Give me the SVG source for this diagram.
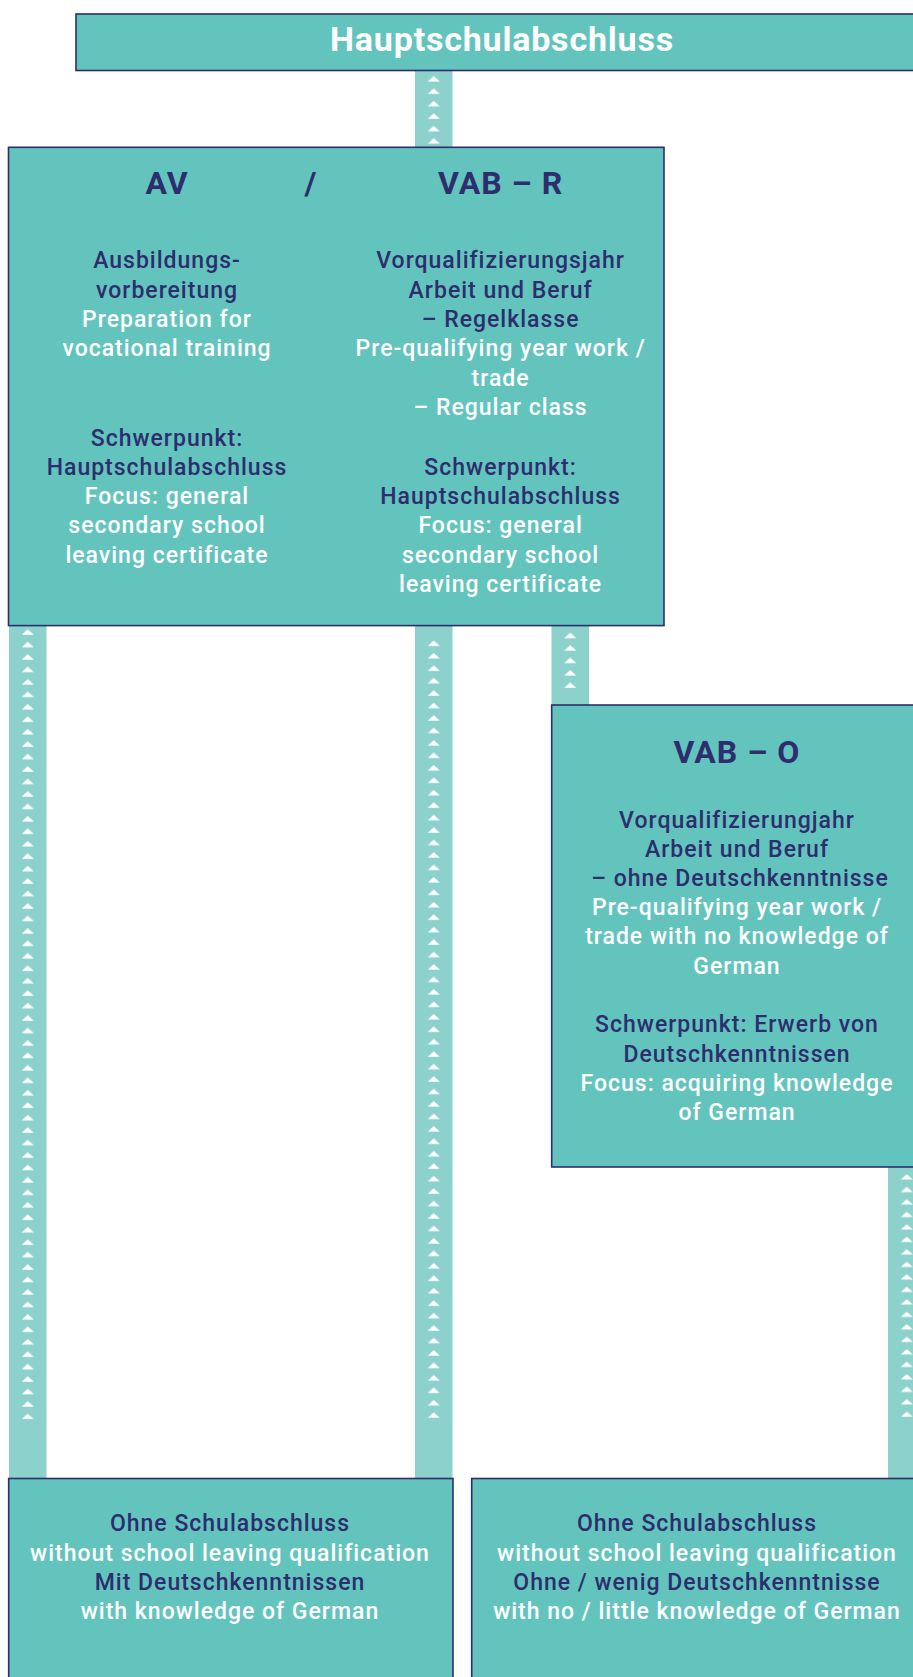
<svg xmlns="http://www.w3.org/2000/svg" width="913" height="1677" viewBox="0 0 913 1677">
<style>
.box{fill:#63C4BE;stroke:#2E2D6D;stroke-width:1.6}
.bar{fill:#8DD1CC}
text{font-family:Roboto,"Liberation Sans",sans-serif;text-anchor:middle}
.t{font-size:23px;font-weight:500;letter-spacing:1px}
.h{font-size:32px;font-weight:bold;letter-spacing:1px;fill:#2E2D6D}
.ttl{font-size:34px;font-weight:bold;letter-spacing:0.8px;fill:#FFFFFF}
.n{fill:#2E2D6D}
.w{fill:#FFFFFF}
</style>
<defs>
<pattern id="pTop" patternUnits="userSpaceOnUse" x="415" y="76" width="37.5" height="12.45"><polygon points="12.75,5.4 18.75,0 24.75,5.4" fill="#FFFFFF"/></pattern>
<pattern id="pLeft" patternUnits="userSpaceOnUse" x="9" y="629.3" width="37.5" height="12.45"><polygon points="12.75,5.4 18.75,0 24.75,5.4" fill="#FFFFFF"/></pattern>
<pattern id="pMid" patternUnits="userSpaceOnUse" x="415" y="640.5" width="37.5" height="12.45"><polygon points="12.75,5.4 18.75,0 24.75,5.4" fill="#FFFFFF"/></pattern>
<pattern id="pThird" patternUnits="userSpaceOnUse" x="551.5" y="632.7" width="37.5" height="12.45"><polygon points="12.75,5.4 18.75,0 24.75,5.4" fill="#FFFFFF"/></pattern>
<pattern id="pRight" patternUnits="userSpaceOnUse" x="888" y="1174.3" width="37.5" height="12.49"><polygon points="12.75,5.4 18.75,0 24.75,5.4" fill="#FFFFFF"/></pattern>
</defs>

<g id="connectors">
<rect class="bar" x="415" y="70" width="37.5" height="78"/>
<rect x="415" y="76" width="37.5" height="67.75" fill="url(#pTop)"/>
<rect class="bar" x="9" y="625" width="37.5" height="854"/>
<rect x="9" y="629.3" width="37.5" height="789.85" fill="url(#pLeft)"/>
<rect class="bar" x="415" y="625" width="37.5" height="854"/>
<rect x="415" y="640.5" width="37.5" height="777.4" fill="url(#pMid)"/>
<rect class="bar" x="551.5" y="625" width="37.5" height="80"/>
<rect x="551.5" y="632.7" width="37.5" height="55.3" fill="url(#pThird)"/>
<rect class="bar" x="888" y="1166" width="37.5" height="313"/>
<rect x="888" y="1174.3" width="37.5" height="242.8" fill="url(#pRight)"/>
</g>

<g id="node-hauptschulabschluss">
<rect class="box" x="76" y="14" width="860" height="56.5"/>
<text class="ttl" x="502" y="51">Hauptschulabschluss</text>
</g>

<g id="node-av-vabr">
<rect class="box" x="8.5" y="147.3" width="655.5" height="478.3"/>
<text class="h" x="167" y="194.3">AV</text>
<text class="h" x="311" y="194.3">/</text>
<text class="h" x="500.6" y="194.3">VAB – R</text>
<text class="t n" x="167" y="268.3">Ausbildungs-</text>
<text class="t n" x="167" y="297.6">vorbereitung</text>
<text class="t w" x="167" y="327">Preparation for</text>
<text class="t w" x="167" y="356.3">vocational training</text>
<text class="t n" x="167" y="446">Schwerpunkt:</text>
<text class="t n" x="167" y="475">Hauptschulabschluss</text>
<text class="t w" x="167" y="504.3">Focus: general</text>
<text class="t w" x="167" y="533.3">secondary school</text>
<text class="t w" x="167" y="563">leaving certificate</text>
<text class="t n" x="500.6" y="268.3">Vorqualifizierungsjahr</text>
<text class="t n" x="500.6" y="297.6">Arbeit und Beruf</text>
<text class="t n" x="500.6" y="327">– Regelklasse</text>
<text class="t w" x="500.6" y="356.3">Pre-qualifying year work /</text>
<text class="t w" x="500.6" y="385.6">trade</text>
<text class="t w" x="500.6" y="415">– Regular class</text>
<text class="t n" x="500.6" y="475">Schwerpunkt:</text>
<text class="t n" x="500.6" y="504.3">Hauptschulabschluss</text>
<text class="t w" x="500.6" y="533.3">Focus: general</text>
<text class="t w" x="500.6" y="563">secondary school</text>
<text class="t w" x="500.6" y="592.3">leaving certificate</text>
</g>

<g id="node-vabo">
<rect class="box" x="551.7" y="705" width="380" height="462"/>
<text class="h" x="737" y="762.7">VAB – O</text>
<text class="t n" x="737" y="827.6">Vorqualifizierungjahr</text>
<text class="t n" x="737" y="856.5">Arbeit und Beruf</text>
<text class="t n" x="740" y="886">– ohne Deutschkenntnisse</text>
<text class="t w" x="737" y="915">Pre-qualifying year work /</text>
<text class="t w" x="737" y="944.3">trade with no knowledge of</text>
<text class="t w" x="737" y="974">German</text>
<text class="t n" x="737" y="1032.3">Schwerpunkt: Erwerb von</text>
<text class="t n" x="737" y="1061.7">Deutschkenntnissen</text>
<text class="t w" x="737" y="1091">Focus: acquiring knowledge</text>
<text class="t w" x="737" y="1120">of German</text>
</g>

<g id="node-ohne-mit">
<rect class="box" x="8.7" y="1478.5" width="444.3" height="220"/>
<text class="t n" x="230" y="1531">Ohne Schulabschluss</text>
<text class="t w" x="230" y="1560.6">without school leaving qualification</text>
<text class="t n" x="230" y="1590">Mit Deutschkenntnissen</text>
<text class="t w" x="230" y="1619">with knowledge of German</text>
</g>

<g id="node-ohne-ohne">
<rect class="box" x="471.7" y="1478.5" width="460" height="220"/>
<text class="t n" x="697" y="1531">Ohne Schulabschluss</text>
<text class="t w" x="697" y="1560.6">without school leaving qualification</text>
<text class="t n" x="697" y="1590">Ohne / wenig Deutschkenntnisse</text>
<text class="t w" x="697" y="1619">with no / little knowledge of German</text>
</g>
</svg>
